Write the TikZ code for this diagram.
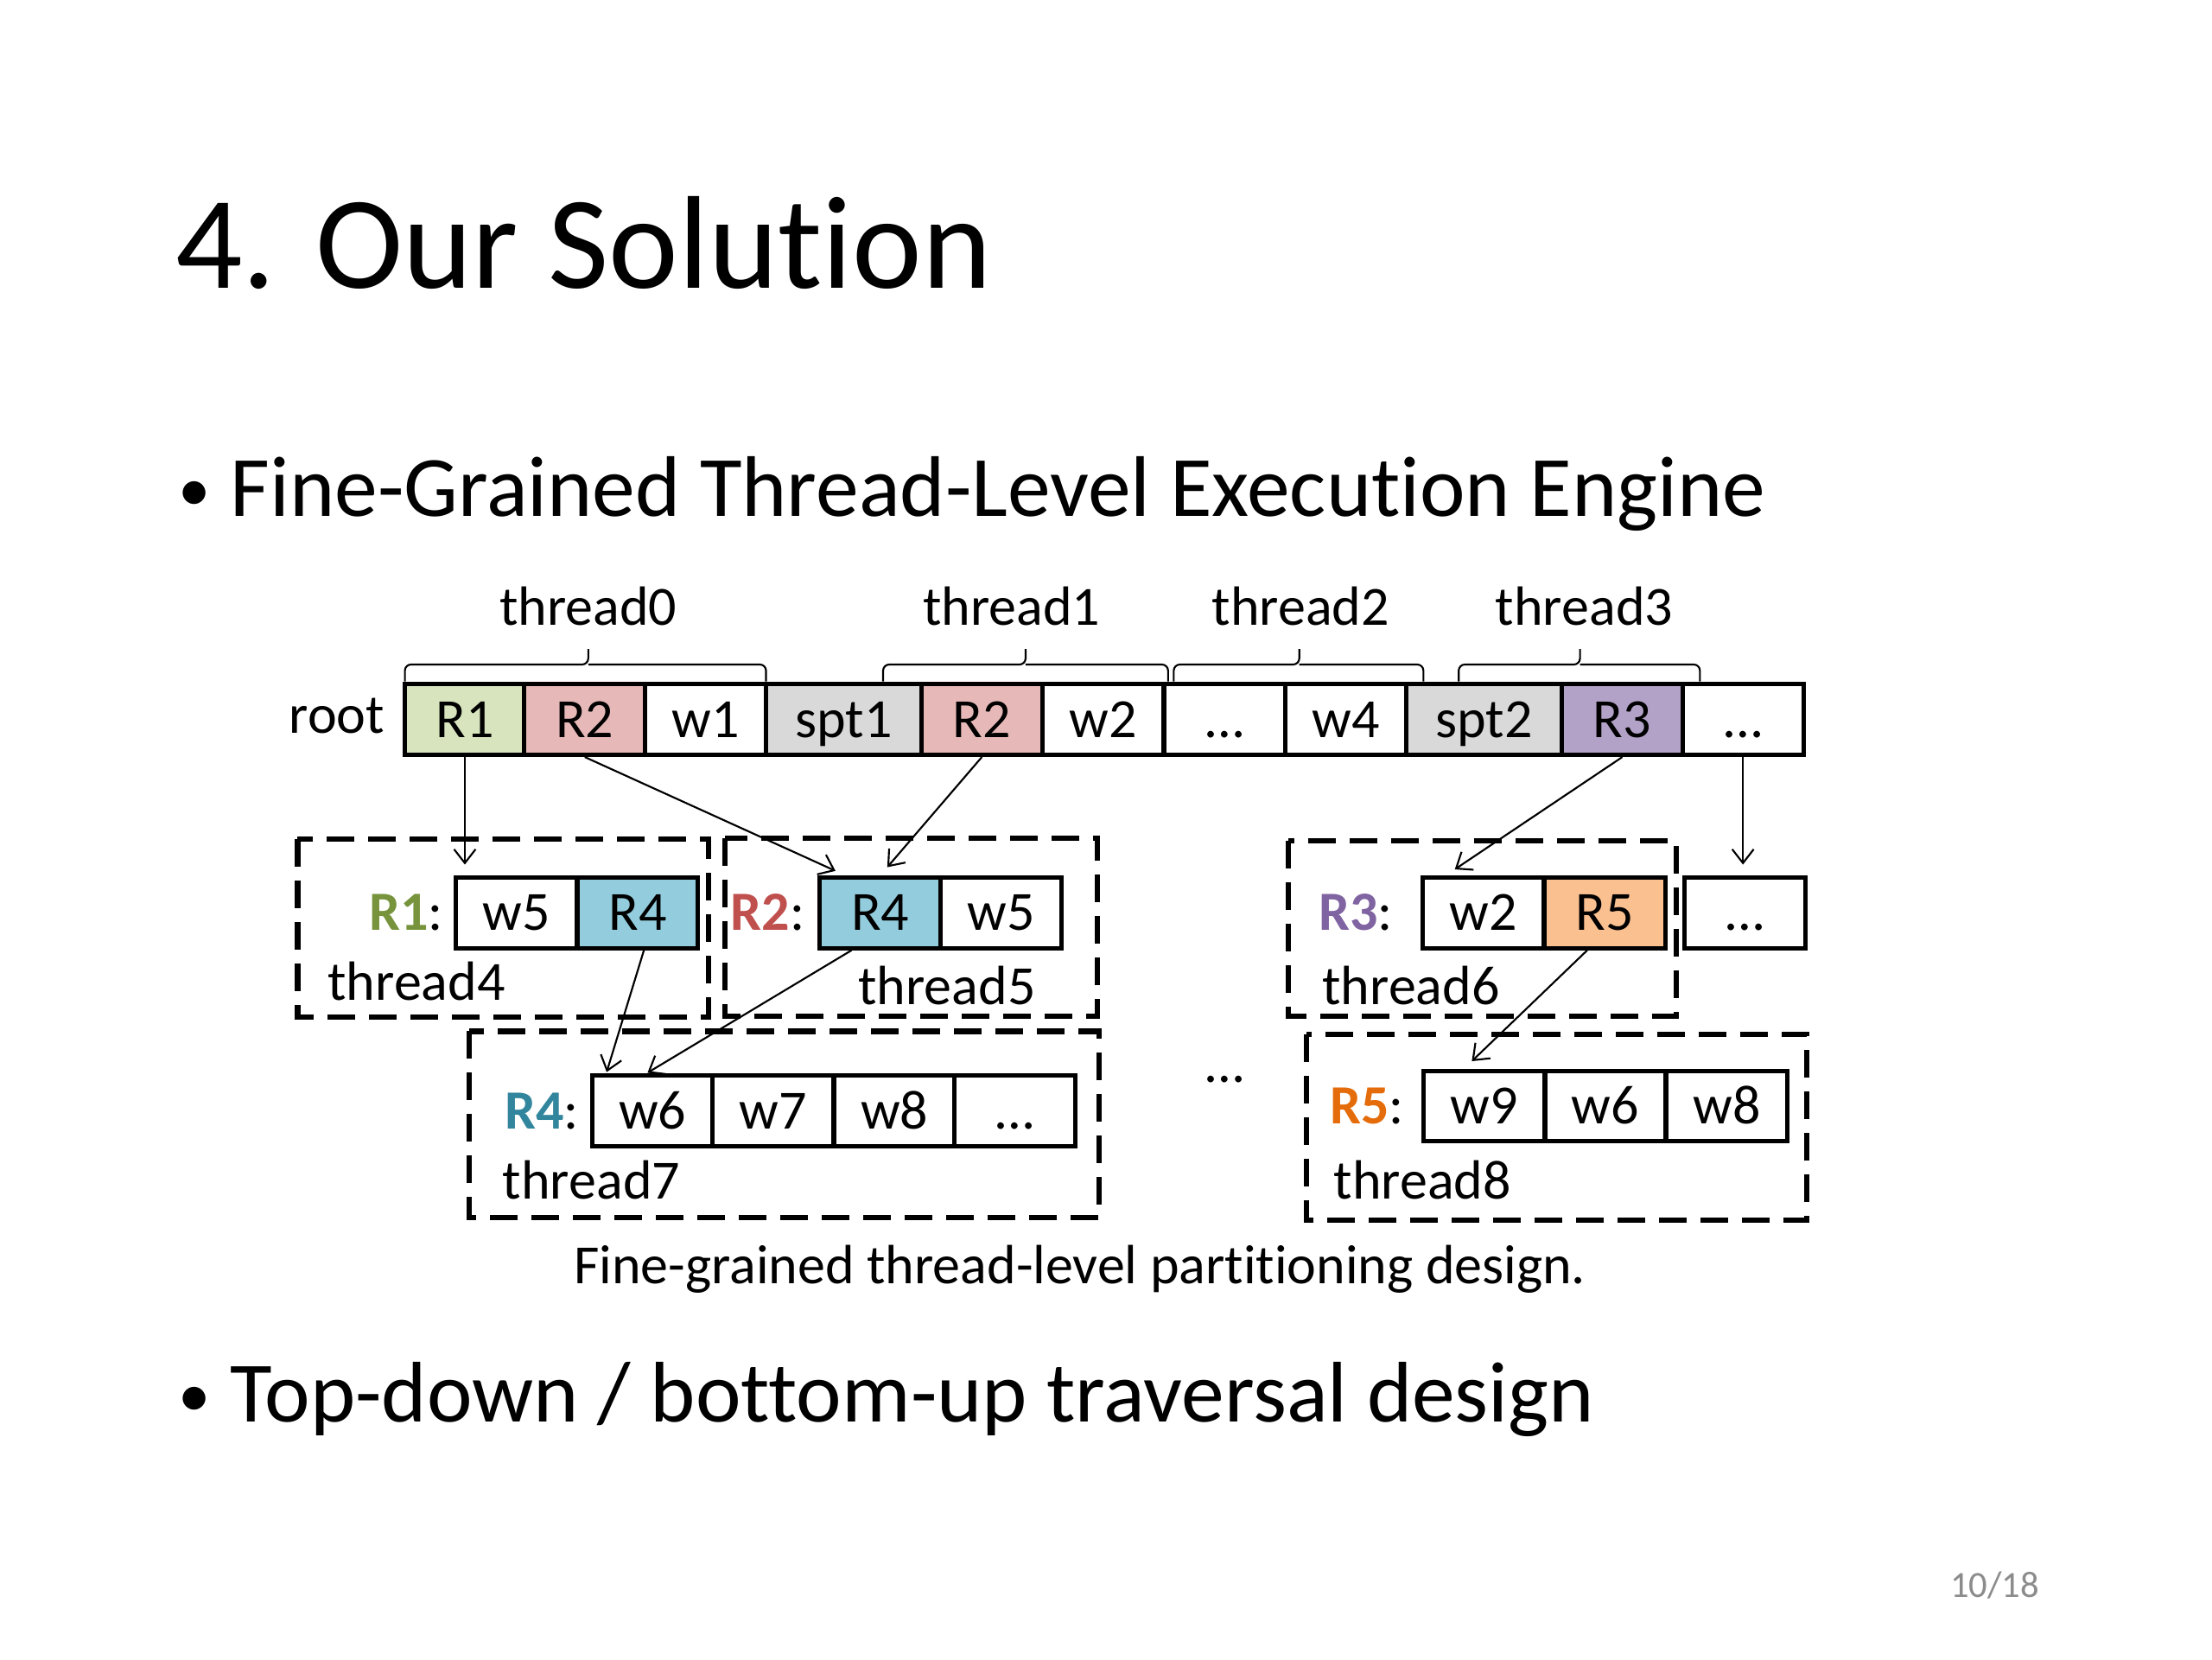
\documentclass[tikz,border=0pt]{standalone}
\usepackage{fontspec}
\setmainfont{Carlito}[Ligatures={NoCommon,NoContextual}]
\usetikzlibrary{positioning,calc,arrows.meta}
\definecolor{fgreen}{HTML}{D7E4BD}\definecolor{tgreen}{HTML}{77933C}
\definecolor{fred}{HTML}{E6B9B8}\definecolor{tred}{HTML}{C0504D}
\definecolor{fpurple}{HTML}{B3A2C7}\definecolor{tpurple}{HTML}{8064A2}
\definecolor{fblue}{HTML}{93CDDD}\definecolor{tblue}{HTML}{31859C}
\definecolor{forange}{HTML}{FAC090}\definecolor{torange}{HTML}{E46C0A}
\definecolor{fgray}{HTML}{D9D9D9}\definecolor{pgnum}{HTML}{8C8C8C}
\newcommand\diafont{\fontsize{18}{21}\selectfont}
\newcommand\bulfont{\fontsize{28}{33}\selectfont}
\newcommand\ttlfont{\fontsize{43}{52}\selectfont}
\tikzset{
  cell/.style={draw,line width=1.4pt,minimum width=39.3pt,minimum height=23pt,
    inner sep=0pt,text height=11.6pt,text depth=0pt,font=\diafont},
  wide/.style={minimum width=50.5pt},
  lbl/.style={inner sep=0pt,text height=11.6pt,text depth=0pt,font=\diafont},
  txt/.style={inner sep=0pt,anchor=base west,font=\diafont},
  frame/.style={line width=1.7pt,dash pattern=on 9pt off 4.5pt},
  brc/.style={line width=0.6pt,rounded corners=2pt},
  arr/.style={line width=0.6pt,-{Straight Barb[length=4.5pt,width=7pt]},shorten >=3.5pt}
}
\begin{document}
\begin{tikzpicture}[x=0.4592pt,y=-0.4592pt]
\useasboundingbox[fill=white] (0,0) rectangle (1568,1176);
% slide text
\node[txt,font=\ttlfont] (title) at (124,204) {4. Our Solution};
\node[txt,font=\fontsize{21}{25}\selectfont] (dot1) at (126,362) {•};
\node[txt,font=\bulfont] (bul1) at (163,366) {Fine-Grained Thread-Level Execution Engine};
\node[txt,font=\fontsize{21}{25}\selectfont] (dot2) at (126,1004) {•};
\node[txt,font=\bulfont] (bul2) at (163,1008) {Top-down / bottom-up traversal design};
\node[txt,font=\fontsize{12}{14}\selectfont,text=pgnum] (pg) at (1382,1132) {10/18};

% root row
\node[txt,anchor=base east] (root) at (273,520) {root};
\foreach \n/\x/\t/\f in {rt1/329.5/R1/fgreen, rt2/414.5/R2/fred, rt3/500/w1/white,
    rt4/598/spt1/fgray, rt5/696/R2/fred, rt6/782/w2/white, rt7/868/…/white,
    rt8/954/w4/white, rt9/1052/spt2/fgray, rt10/1150/R3/fpurple, rt11/1235.5/…/white}
  \node[cell,fill=\f] (\n) at (\x,510) {\t};
\node[cell,wide,fill=fgray] at (598,510) {spt1};
\node[cell,wide,fill=fgray] at (1052,510) {spt2};

% braces over the root row
\draw[brc] (287,483) |- (417,471) -- ++(0,-11) ++(0,11) -| (543,483);
\draw[brc] (626,483) |- (727,471) -- ++(0,-11) ++(0,11) -| (828,483);
\draw[brc] (832,483) |- (921,471) -- ++(0,-11) ++(0,11) -| (1009,483);
\draw[brc] (1034,483) |- (1120,471) -- ++(0,-11) ++(0,11) -| (1205,483);
\node[txt,anchor=base] (th0) at (417,443) {thread0};
\node[txt,anchor=base] (th1) at (717,443) {thread1};
\node[txt,anchor=base] (th2) at (922,443) {thread2};
\node[txt,anchor=base] (th3) at (1123,443) {thread3};

% second level
\draw[frame] (211,595) rectangle (502,721);
\draw[frame] (514,594) rectangle (778,720);
\draw[frame] (913,596) rectangle (1188,720);
\node[cell] (t4w5) at (366,647) {w5};
\node[cell,fill=fblue] (t4r4) at (452,647) {R4};
\node[cell,fill=fblue] (t5r4) at (624,647) {R4};
\node[cell] (t5w5) at (709.5,647) {w5};
\node[cell] (t6w2) at (1051.5,647) {w2};
\node[cell,fill=forange] (t6r5) at (1137.5,647) {R5};
\node[cell] (t6dt) at (1237,647) {…};
\node[lbl,left=3.2pt of t4w5] (l1) {\textcolor{tgreen}{\textbf{R1}}:};
\node[lbl,left=4pt of t5r4] (l2) {\textcolor{tred}{\textbf{R2}}:};
\node[lbl,left=9pt of t6w2] (l3) {\textcolor{tpurple}{\textbf{R3}}:};
\node[txt] (th4) at (232,709) {thread4};
\node[txt] (th5) at (608,712) {thread5};
\node[txt] (th6) at (937,712) {thread6};

% third level
\draw[frame] (332.5,731) rectangle (779,863);
\draw[frame] (926,733) rectangle (1281,865);
\foreach \n/\x/\t in {t7w6/462.5/w6, t7w7/548/w7, t7w8/634/w8, t7dt/719.5/…}
  \node[cell] (\n) at (\x,787.5) {\t};
\foreach \n/\x/\t in {t8w9/1052/w9, t8w6/1138/w6, t8w8/1224/w8}
  \node[cell] (\n) at (\x,784) {\t};
\node[lbl,left=3.4pt of t7w6] (l4) {\textcolor{tblue}{\textbf{R4}}:};
\node[lbl,left=5.5pt of t8w9] (l5) {\textcolor{torange}{\textbf{R5}}:};
\node[txt] (th7) at (356,850) {thread7};
\node[txt] (th8) at (945,850) {thread8};
\node[txt,anchor=base] (mid) at (868,767) {…};
\node[txt,anchor=base] (cap) at (765.5,910) {Fine-grained thread-level partitioning design.};

% arrows
\draw[arr] (rt1.south) -- (rt1.south |- t4w5.north);
\draw[arr] (rt2.south) -- ($(t5r4.north west)!0.22!(t5r4.north east)$);
\draw[arr] (rt5.south) -- (t5r4.north);
\draw[arr] (rt10.south) -- ($(t6w2.north west)!0.2!(t6w2.north east)$);
\draw[arr] (rt11.south) -- (rt11.south |- t6dt.north);
\draw[arr,shorten >=0.5pt] ($(t4r4.south west)!0.55!(t4r4.south east)$) -- ($(t7w6.north west)!0.13!(t7w6.north east)$);
\draw[arr,shorten >=0.5pt] ($(t5r4.south west)!0.27!(t5r4.south east)$) -- ($(t7w6.north west)!0.45!(t7w6.north east)$);
\draw[arr] ($(t6r5.south west)!0.36!(t6r5.south east)$) -- ($(t8w9.north west)!0.34!(t8w9.north east)$);
\end{tikzpicture}
\end{document}
